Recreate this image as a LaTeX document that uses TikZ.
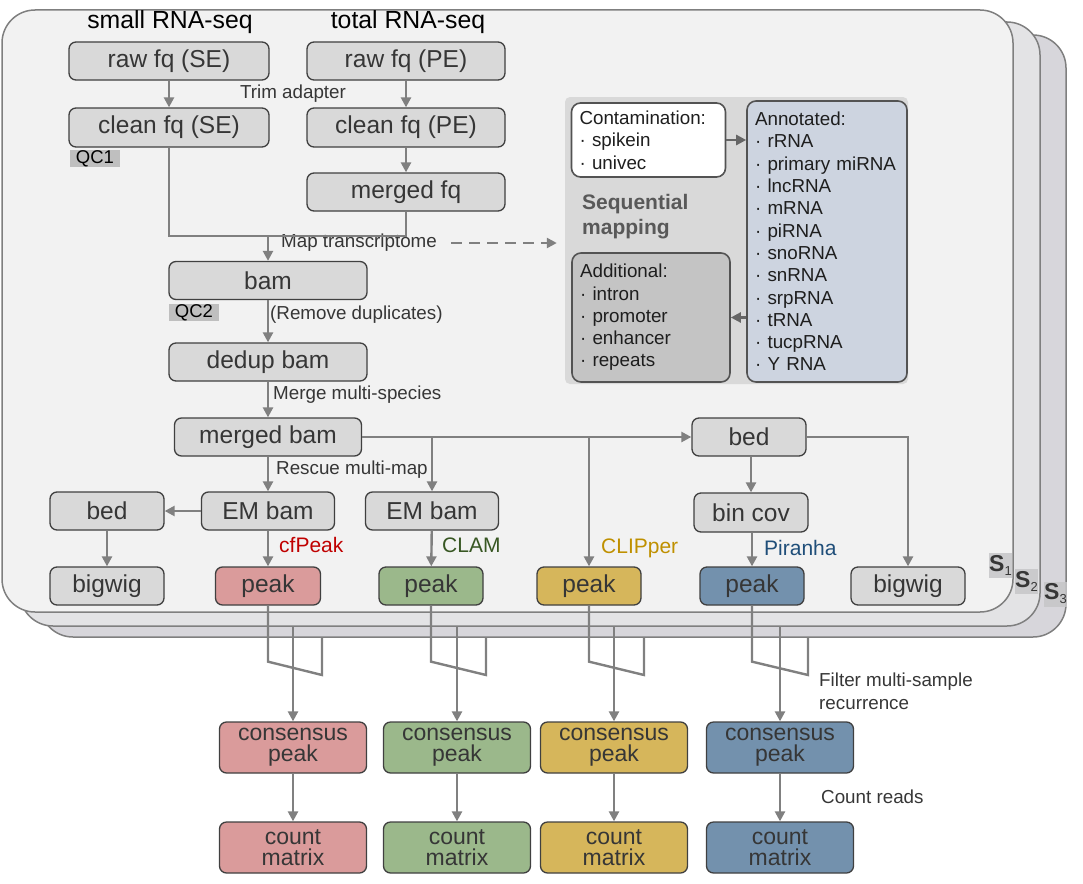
\documentclass[tikz,border=0pt]{standalone}
\usepackage{fontspec}
\setmainfont{Liberation Sans}
\usetikzlibrary{arrows.meta,calc}
\definecolor{panelA}{HTML}{F2F2F2}
\definecolor{panelB}{HTML}{E3E3E5}
\definecolor{panelC}{HTML}{D7D6DB}
\definecolor{panelbdr}{HTML}{7F7F7F}
\definecolor{nfill}{HTML}{D9D9D9}
\definecolor{bdr}{HTML}{404040}
\definecolor{tdark}{HTML}{363636}
\definecolor{agray}{HTML}{808080}
\definecolor{seqbg}{HTML}{D9D9D9}
\definecolor{annotfill}{HTML}{CDD4E0}
\definecolor{addfill}{HTML}{C4C4C4}
\definecolor{qcgray}{HTML}{BFBFBF}
\definecolor{sgray}{HTML}{C6C6C8}
\definecolor{pR}{HTML}{DA9B9B}
\definecolor{pG}{HTML}{9BB88B}
\definecolor{pY}{HTML}{D6B65B}
\definecolor{pB}{HTML}{7391AD}
\definecolor{cfred}{HTML}{C00000}
\definecolor{clamgreen}{HTML}{385723}
\definecolor{clipgold}{HTML}{BF9000}
\definecolor{piranhablue}{HTML}{1F4E79}
\definecolor{seqtext}{HTML}{595959}
\definecolor{listtext}{HTML}{1E1E1E}
\begin{document}
\begin{tikzpicture}[x=1pt,y=-1pt,
  panel/.style={draw=panelbdr, line width=1.5pt, rounded corners=33pt},
  box/.style={draw=bdr, fill=nfill, line width=1.3pt, rounded corners=7pt, inner sep=0pt,
    text=tdark, font=\fontsize{24.5}{24.5}\selectfont, minimum height=38pt},
  cbox/.style={box, minimum width=147pt, minimum height=51pt, align=center, font=\fontsize{23}{21}\selectfont},
  arr/.style={draw=agray, line width=2.4pt, -{Triangle[length=10pt,width=10pt]}},
  darr/.style={draw=bdr!80!white, line width=2.4pt, -{Triangle[length=10pt,width=10pt]}},
  dasharr/.style={draw=agray, line width=2.4pt, dash pattern=on 11pt off 7pt, -{Triangle[length=10pt,width=10pt]}},
  ln/.style={draw=agray, line width=2.4pt},
  lab/.style={font=\fontsize{18.8}{23}\selectfont, text=tdark, inner sep=0pt, anchor=west},
  tool/.style={font=\fontsize{21}{23}\selectfont, inner sep=0pt, anchor=west},
  head/.style={font=\fontsize{24.8}{24.8}\selectfont, text=black, inner sep=0pt},
  qc/.style={fill=qcgray, font=\fontsize{18.5}{18.5}\selectfont, text=black, inner sep=0pt, minimum width=50pt, minimum height=17pt},
  listbox/.style={draw=bdr!90!white, line width=1.6pt, rounded corners=9pt, align=left,
    font=\fontsize{18.8}{22.3}\selectfont, text=listtext, inner xsep=8pt, inner ysep=0pt},
  slab/.style={fill=sgray, fill opacity=0.85, text opacity=1, text=tdark, inner sep=0pt, minimum width=23pt, minimum height=25pt}
]
\useasboundingbox (0,0) rectangle (1083,883);

% sample panels
\draw[panel, fill=panelC] (40,35) rectangle (1066,637);
\draw[panel, fill=panelB] (20,22) rectangle (1040,626);
\draw[panel, fill=panelA] (2,10) rectangle (1013,612);

\node[slab] (s1) at (1000.5,565.5) {{\fontsize{23}{23}\selectfont\bfseries S}{\fontsize{13}{13}\selectfont\raisebox{-4pt}{1}}};
\node[slab] (s2) at (1026.5,581) {{\fontsize{23}{23}\selectfont\bfseries S}{\fontsize{13}{13}\selectfont\raisebox{-4pt}{2}}};
\node[slab] (s3) at (1055.5,594) {{\fontsize{23}{23}\selectfont\bfseries S}{\fontsize{13}{13}\selectfont\raisebox{-4pt}{3}}};

% headers
\node[head] (hSE) at (170,22) {small RNA-seq};
\node[head] (hPE) at (408,22) {total RNA-seq};

% top nodes
\node[box, minimum width=200pt] (rawSE) at (169,61) {raw fq (SE)};
\node[box, minimum width=198pt] (rawPE) at (406,61) {raw fq (PE)};
\node[box, minimum width=200pt, minimum height=39pt] (cleanSE) at (169,127.5) {clean fq (SE)};
\node[box, minimum width=198pt, minimum height=39pt] (cleanPE) at (406,127.5) {clean fq (PE)};
\node[box, minimum width=198pt] (mergedfq) at (406,192) {merged fq};
\node[qc] (qc1) at (95,158.5) {QC1};
\node[lab, anchor=center] (trim) at (293,94) {Trim adapter};

\node[box, minimum width=198pt] (bam) at (268,280.5) {bam};
\node[qc] (qc2) at (194,312.5) {QC2};
\node[box, minimum width=198pt] (dedup) at (268,362) {dedup bam};
\node[box, minimum width=187pt] (mergedbam) at (268,437) {merged bam};

\node[lab] (maplab) at (281,243) {Map transcriptome};
\node[lab] (rmdup) at (270,315) {(Remove duplicates)};
\node[lab] (mergesp) at (273,395) {Merge multi-species};
\node[lab] (rescue) at (276,470) {Rescue multi-map};

% row of EM bams / beds
\node[box, minimum width=114pt] (bedL) at (107,511) {bed};
\node[box, minimum width=133pt] (emA) at (268,511) {EM bam};
\node[box, minimum width=133pt] (emB) at (432,511) {EM bam};
\node[box, minimum width=114pt] (bedR) at (749,437) {bed};
\node[box, minimum width=114pt, minimum height=39pt] (bincov) at (751,512.5) {bin cov};

% peaks row
\node[box, minimum width=114pt] (bigwigL) at (107,586) {bigwig};
\node[box, minimum width=105pt, fill=pR] (peakR) at (268,586) {peak};
\node[box, minimum width=104pt, fill=pG] (peakG) at (431,586) {peak};
\node[box, minimum width=104pt, fill=pY] (peakY) at (589,586) {peak};
\node[box, minimum width=104pt, fill=pB] (peakB) at (752,586) {peak};
\node[box, minimum width=114pt] (bigwigR) at (908,586) {bigwig};

\node[tool, text=cfred] (cfpeak) at (279,545) {cfPeak};
\node[tool, text=clamgreen] (clam) at (442,545) {CLAM};
\node[tool, text=clipgold] (clipper) at (601,548) {CLIPper};
\node[tool, text=piranhablue] (piranha) at (764,548) {Piranha};

% sequential mapping panel
\node[fill=seqbg, rounded corners=5pt, minimum width=343pt, minimum height=287pt, inner sep=0pt] (seq) at (736.5,240.5) {};
\node[listbox, fill=white, minimum height=74pt, text width=138pt] (contam) at (648.5,140) {Contamination:\\· spikein\\· univec};
\node[listbox, fill=annotfill, minimum height=281pt, text width=144pt, inner xsep=8pt] (annot) at (827,241.5) {Annotated:\\· rRNA\\· primary miRNA\\· lncRNA\\· mRNA\\· piRNA\\· snoRNA\\· snRNA\\· srpRNA\\· tRNA\\· tucpRNA\\· Y RNA};
\node[listbox, fill=addfill, minimum height=129pt, text width=142pt] (addl) at (651,317.5) {Additional:\\· intron\\· promoter\\· enhancer\\· repeats};
\node[font=\fontsize{21}{25}\selectfont\bfseries, text=seqtext, align=left, anchor=west, inner sep=0pt] (seqlab) at (582,217) {Sequential\\mapping};

% bottom consensus / count
\node[cbox, fill=pR] (consR) at (293,747.5) {consensus\\peak};
\node[cbox, fill=pG] (consG) at (457,747.5) {consensus\\peak};
\node[cbox, fill=pY] (consY) at (614,747.5) {consensus\\peak};
\node[cbox, fill=pB] (consB) at (780,747.5) {consensus\\peak};
\node[cbox, fill=pR] (cntR) at (293,847.5) {count\\matrix};
\node[cbox, fill=pG] (cntG) at (457,847.5) {count\\matrix};
\node[cbox, fill=pY] (cntY) at (614,847.5) {count\\matrix};
\node[cbox, fill=pB] (cntB) at (780,847.5) {count\\matrix};
\node[lab, align=left] (filt) at (819,691.5) {Filter multi-sample\\recurrence};
\node[lab] (cnt) at (821,797) {Count reads};

% connectors: top
\draw[arr] (rawSE) -- (cleanSE);
\draw[arr] (rawPE) -- (cleanPE);
\draw[arr] (cleanPE) -- (mergedfq);
\coordinate (j) at (268,236);
\draw[ln] (cleanSE.south) |- (j);
\draw[ln] (mergedfq.south) |- (j);
\draw[arr] (j) -- (bam.north);
\draw[dasharr] ($(maplab.east)+(14,0)$) -- ($(seq.west |- maplab.east)+(-8,0)$);
\draw[arr] (bam) -- (dedup);
\draw[arr] (dedup) -- (mergedbam);
\draw[arr] (mergedbam) -- (emA);
\draw[arr] (mergedbam.east) -- (bedR.west);
\draw[arr] (emB.north |- mergedbam.east) -- (emB.north);
\draw[arr] (peakY.north |- mergedbam.east) -- (peakY.north);
\draw[arr] (emA.west) -- (bedL.east);
\draw[arr] (bedL) -- (bigwigL);
\draw[arr] (emA) -- (peakR);
\draw[arr] (emB) -- (peakG);
\draw[arr] (bincov.north |- bedR.south) -- (bincov.north);
\draw[arr] (peakB.north |- bincov.south) -- (peakB.north);
\draw[arr] (bedR.east) -| (bigwigR.north);

% sequential mapping arrows
\draw[darr] (contam.east) -- (contam.east -| annot.west);
\draw[darr] (annot.west |- addl.east) -- (addl.east);

% multi-sample merge
\foreach \c/\M/\R in {R/293/322, G/457/486, Y/614/644, B/780/808}{
  \path (peak\c.south) ++(0,56) coordinate (ka\c);
  \coordinate (kb\c) at (\R,675);
  \coordinate (kc\c) at (\R,637);
  \coordinate (km\c) at (\M,626);
  \draw[ln] (peak\c.south) -- (ka\c) -- (kb\c) -- (kc\c);
  \draw[arr] (km\c) -- (cons\c.north);
  \draw[arr] (cons\c) -- (cnt\c);
}
\end{tikzpicture}
\end{document}
